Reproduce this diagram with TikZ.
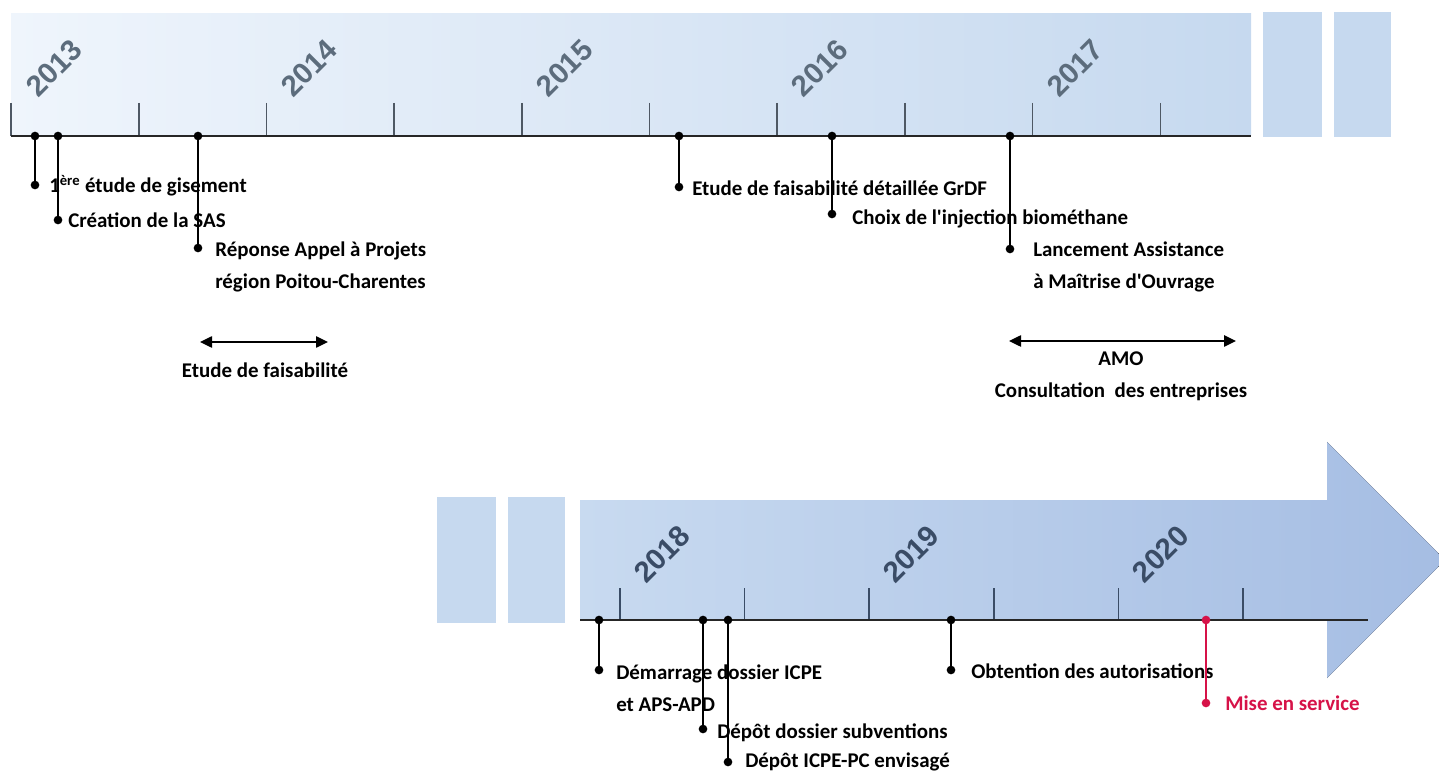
\documentclass[tikz,border=0pt]{standalone}
\usepackage{fontspec}
\setmainfont{Carlito}
\newfontfamily\yearfont{Liberation Sans}
\usetikzlibrary{positioning,arrows.meta}

\definecolor{bandlight}{RGB}{239,245,252}
\definecolor{banddark}{RGB}{198,217,239}
\definecolor{arrowlight}{RGB}{200,218,240}
\definecolor{arrowdark}{RGB}{165,189,227}
\definecolor{tickgray}{RGB}{78,88,100}
\definecolor{yeargray}{RGB}{92,108,124}
\definecolor{yearblue}{RGB}{58,76,102}
\definecolor{redmark}{RGB}{214,18,72}

\begin{document}
\begin{tikzpicture}[x=0.75pt,y=-0.75pt,
  font=\bfseries\fontsize{15.7}{24}\selectfont,
  year/.style={font=\yearfont\bfseries\fontsize{22}{26}\selectfont,text=yeargray,rotate=45,inner sep=0pt},
  tick/.style={tickgray,line width=1.2pt},
  axis/.style={black!85,line width=1.5pt},
  stem/.style={line width=1.1pt},
  pin/.style={circle,fill,inner sep=0pt,minimum size=6.5pt},
  event/.style={anchor=west,inner sep=0pt,align=left},
  span/.style={{Triangle[length=9pt,width=8.5pt]}-{Triangle[length=9pt,width=8.5pt]},line width=1.1pt},
  block/.style={fill=banddark}]

  \useasboundingbox (0,0) rectangle (1439,773);

  % Upper band 2013-2017
  \fill[left color=bandlight,right color=banddark] (11,14) rectangle (1251,136);
  \fill[block] (1263,12) rectangle (1322,137);
  \fill[block] (1334,12) rectangle (1391,137);
  \foreach \i in {0,...,9}
    \draw[tick] (11+127.7*\i,103) -- (11+127.7*\i,136);
  \foreach \yr [count=\i from 0] in {2013,2014,2015,2016,2017}
    \node[year] (y\yr) at (54+255.3*\i,68) {\yr};
  \draw[axis] (11,136) -- (1251,136);

  % Lower arrow 2018-2020
  \fill[block] (437,497) rectangle (496,623);
  \fill[block] (508,497) rectangle (565,623);
  \fill[left color=arrowlight,right color=arrowdark]
    (580,500) -- (1327,500) -- (1327,442) -- (1445,560) -- (1327,678) -- (1327,620) -- (580,620) -- cycle;
  \foreach \i in {0,...,5}
    \draw[tick,yearblue] (620+124.6*\i,588) -- (620+124.6*\i,620);
  \foreach \yr [count=\i from 0] in {2018,2019,2020}
    \node[year,text=yearblue] (y\yr) at (662+249.3*\i,554) {\yr};
  \draw[axis] (580,620) -- (1368,620);

  % Events on the upper band
  \node[pin] (gisA) at (35,136) {};
  \node[pin] (gisB) at (35,185) {};
  \node[event] (gis) at (49,186) {1\textsuperscript{ère} étude de gisement};
  \node[pin] (sasA) at (58,136) {};
  \node[pin] (sasB) at (58,220) {};
  \node[event] (sas) at (68,220) {Création de la SAS};
  \node[pin] (aapA) at (198,136) {};
  \node[pin] (aapB) at (198,248) {};
  \node[event] (aap) at (215,267) {Réponse Appel à Projets\\région Poitou-Charentes};
  \node[pin] (grdfA) at (679,136) {};
  \node[pin] (grdfB) at (679,187) {};
  \node[event] (grdf) at (692,188) {Etude de faisabilité détaillée GrDF};
  \node[pin] (injA) at (832,136) {};
  \node[pin] (injB) at (832,214) {};
  \node[event] (inj) at (852,219) {Choix de l\textquotesingle injection biométhane};
  \node[pin] (amoA) at (1010,136) {};
  \node[pin] (amoB) at (1010,249) {};
  \node[event] (amo) at (1033,267) {Lancement Assistance\\à Maîtrise d\textquotesingle Ouvrage};

  \draw[stem] (gisA.center) -- (gisB.center);
  \draw[stem] (sasA.center) -- (sasB.center);
  \draw[stem] (aapA.center) -- (aapB.center);
  \draw[stem] (grdfA.center) -- (grdfB.center);
  \draw[stem] (injA.center) -- (injB.center);
  \draw[stem] (amoA.center) -- (amoB.center);

  % Periods
  \coordinate (faisL) at (200,342);
  \coordinate (faisR) at (328,342);
  \draw[span] (faisL) -- (faisR);
  \node (fais) at (265,370) {Etude de faisabilité};
  \coordinate (consL) at (1009,341);
  \coordinate (consR) at (1236,341);
  \draw[span] (consL) -- (consR);
  \node[align=center] (cons) at (1121,376) {AMO\\Consultation~ des entreprises};

  % Events on the lower arrow
  \node[pin] (icpeA) at (599,620) {};
  \node[pin] (icpeB) at (599,670) {};
  \node[event] (icpe) at (616,688) {Démarrage dossier ICPE\\et APS-APD};
  \node[pin] (subA) at (703,620) {};
  \node[pin] (subB) at (703,729) {};
  \node[event] (sub) at (717,733) {Dépôt dossier subventions};
  \node[pin] (pcA) at (728,620) {};
  \node[pin] (pcB) at (728,762) {};
  \node[event] (pc) at (745,762) {Dépôt ICPE-PC envisagé};
  \node[pin] (autA) at (951,620) {};
  \node[pin] (autB) at (951,670) {};
  \node[event] (aut) at (971,671) {Obtention des autorisations};
  \node[pin,redmark] (mesA) at (1206,620) {};
  \node[pin,redmark] (mesB) at (1206,703) {};
  \node[event,text=redmark] (mes) at (1225,703) {Mise en service};

  \draw[stem] (icpeA.center) -- (icpeB.center);
  \draw[stem] (subA.center) -- (subB.center);
  \draw[stem] (pcA.center) -- (pcB.center);
  \draw[stem] (autA.center) -- (autB.center);
  \draw[stem,redmark] (mesA.center) -- (mesB.center);

\end{tikzpicture}
\end{document}
